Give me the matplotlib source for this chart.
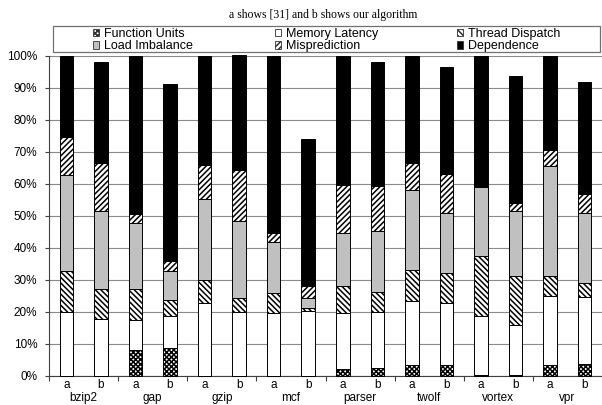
import matplotlib
matplotlib.use('Agg')
import numpy as np
import matplotlib.pyplot as plt
from matplotlib.patches import Patch, Rectangle

plt.rcParams['font.family'] = ['Liberation Sans', 'DejaVu Sans']
plt.rcParams['hatch.linewidth'] = 1.1

# benchmarks, each with a pair of bars (a = [31], b = ours)
benchmarks = ['bzip2', 'gap', 'gzip', 'mcf', 'parser', 'twolf', 'vortex', 'vpr']
bar_labels = ['a', 'b'] * len(benchmarks)

# percentage breakdown, one value per bar (a, b for each benchmark)
function_units = [0, 0, 8.1, 8.7, 0, 0, 0, 0, 2.3, 2.6, 3.3, 3.3, 0.2, 0.2, 3.5, 3.7]
memory_latency = [19.9, 17.8, 9.4, 10.1, 22.7, 19.9, 19.6, 20.2, 17.3, 17.3, 20.0, 19.4, 18.4, 15.7, 21.5, 20.9]
thread_dispatch = [13.0, 9.4, 9.7, 4.9, 7.3, 4.4, 6.2, 1.2, 8.4, 6.4, 9.8, 9.5, 18.8, 15.3, 6.1, 4.4]
load_imbalance = [29.8, 24.4, 20.6, 9.2, 25.2, 24.1, 16.2, 2.9, 16.8, 19.1, 25.0, 18.8, 21.7, 20.4, 34.4, 21.9]
misprediction = [12.0, 15.0, 2.8, 2.9, 10.8, 16.1, 2.7, 3.9, 14.9, 14.0, 8.5, 12.1, 0, 2.4, 5.2, 5.9]
dependence = [25.3, 31.4, 49.4, 55.4, 34.0, 35.9, 55.3, 45.9, 40.3, 38.7, 33.4, 33.4, 40.9, 39.7, 29.3, 35.2]

series = [
    ('Function Units', function_units, 'white', 'xxxxxxx'),
    ('Memory Latency', memory_latency, 'white', None),
    ('Thread Dispatch', thread_dispatch, 'white', '\\' * 6),
    ('Load Imbalance', load_imbalance, '#c0c0c0', None),
    ('Misprediction', misprediction, 'white', '/' * 6),
    ('Dependence', dependence, 'black', None),
]

W, H = 602, 405
fig = plt.figure(figsize=(W / 100, H / 100), dpi=100)
ax = fig.add_axes([49 / W, 1 - 376 / H, (W - 49) / W, 320 / H])

x = np.arange(len(bar_labels))
bottom = np.zeros(len(x))
handles = {}
for name, vals, color, hatch in series:
    vals = np.array(vals, dtype=float)
    ax.bar(x, vals, width=0.39, bottom=bottom, color=color, edgecolor='black',
           hatch=hatch, linewidth=0.7, zorder=3, clip_on=False)
    handles[name] = Patch(facecolor=color, edgecolor='#303030', hatch=hatch, linewidth=0.6)
    bottom += vals

ax.set_xlim(-0.5, len(x) - 0.5)
ax.set_ylim(0, 100)
ax.set_yticks(np.arange(0, 101, 10))
ax.set_yticklabels([f'{v}%' for v in range(0, 101, 10)])
ax.yaxis.grid(True, color='#8a8a8a', linewidth=0.8)
ax.set_axisbelow(True)

for side in ['top', 'right']:
    ax.spines[side].set_visible(False)
for side in ['left', 'bottom']:
    ax.spines[side].set_color('#404040')
    ax.spines[side].set_linewidth(0.8)

ax.tick_params(axis='y', length=3, width=0.8, color='#404040', pad=5.5, labelsize=8.5)
ax.set_xticks(x)
ax.set_xticklabels(bar_labels)
ax.tick_params(axis='x', which='major', length=0, pad=2, labelsize=8.5)
ax.set_xticks(np.arange(-0.5, len(x), 2), minor=True)
ax.tick_params(axis='x', which='minor', length=3.6, width=0.8, color='#404040')

for g, name in enumerate(benchmarks):
    ax.text(2 * g + 0.5, -0.069, name, transform=ax.get_xaxis_transform(),
            ha='center', va='center', fontsize=8.5)

fig.text(323.5 / W, 1 - 15 / H, 'a shows [31] and b shows our algorithm',
         family='Liberation Serif', fontsize=8.5, ha='center', va='center')

# legend box with three columns
fig.patches.append(Rectangle((53.3 / W, 1 - 51.7 / H), (600 - 53.3) / W, 26 / H,
                             transform=fig.transFigure, fill=False,
                             edgecolor='#707070', linewidth=0.9))
columns = [('Function Units', 'Load Imbalance'),
           ('Memory Latency', 'Misprediction'),
           ('Thread Dispatch', 'Dependence')]
col_x = [92.7, 275, 456.7]
for cx, names in zip(col_x, columns):
    fig.legend([handles[n] for n in names], list(names), loc='upper left',
               bbox_to_anchor=(cx / W, 1 - 28 / H), frameon=False,
               fontsize=9, borderpad=0, borderaxespad=0, handlelength=0.5,
               handleheight=0.5, handletextpad=0.4, labelspacing=0.03)

fig.savefig('out.png', dpi=100)
